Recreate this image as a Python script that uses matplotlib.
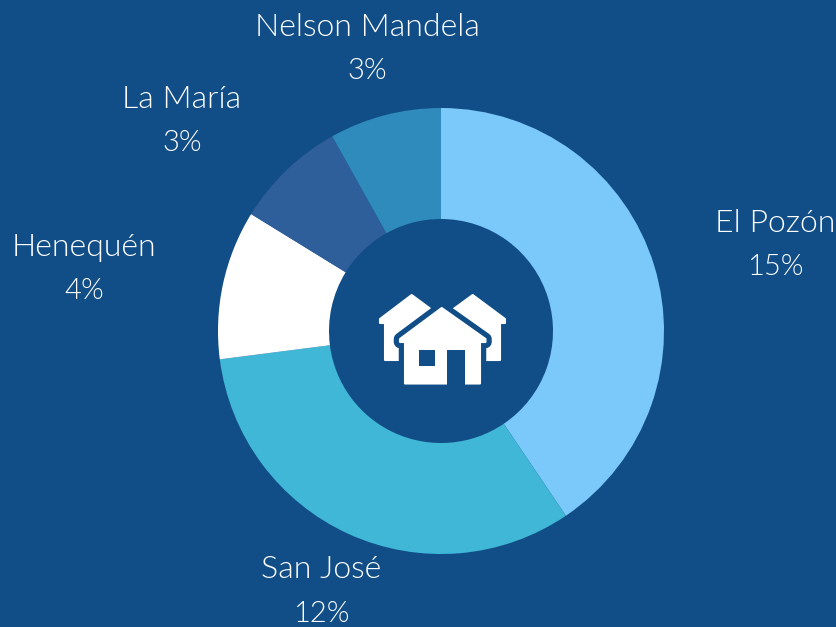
import matplotlib
matplotlib.use('Agg')
import matplotlib.pyplot as plt

labels = ['El Pozón', 'San José', 'Henequén', 'La María', 'Nelson Mandela']
values = [15, 12, 4, 3, 3]
percents = ['15%', '12%', '4%', '3%', '3%']
colors = ['#7bc8fb', '#40b7d7', '#ffffff', '#2f5f9b', '#2e8bbb']

# where the labels sit, in pixels from the top left
label_pos = [(775, 223), (321, 570), (84, 247), (182, 99), (367, 27)]
line_gap = 44

bg = '#114e87'
H = 627
plt.rcParams['font.family'] = ['Lato', 'DejaVu Sans']

fig = plt.figure(figsize=(8.36, 6.27), dpi=100, facecolor=bg)
ax = fig.add_axes([0, 0, 1, 1])

ax.pie(values, colors=colors, startangle=90, counterclock=False, center=(441, H - 331), radius=223,
       frame=True, wedgeprops=dict(width=111, linewidth=0))
ax.set_xlim(0, 836)
ax.set_ylim(0, H)
ax.axis('off')

for lab, pct, (x, y) in zip(labels, percents, label_pos):
    ax.text(x, H - y, lab, color='white', fontsize=23, fontweight=300, ha='center', va='center')
    ax.text(x, H - y - line_gap, pct, color='white', fontsize=21, fontweight=300, ha='center', va='center')


def shape(pts, color, edge=None, lw=0, z=3):
    xs = [p[0] for p in pts]
    ys = [H - p[1] for p in pts]
    ax.fill(xs, ys, facecolor=color, edgecolor=edge if edge else color, linewidth=lw, joinstyle='round', zorder=z)


# house icon in the middle of the ring
left_house = [(380, 319), (411.7, 295), (440, 316), (440, 360), (385, 360), (385, 323), (380, 323)]
right_house = [(505, 319), (472.7, 295), (444, 316), (444, 360), (500, 360), (500, 323), (505, 323)]
mid_house = [(441.7, 308), (485.5, 339), (485.5, 342), (480, 342), (480, 383.5), (405, 383.5),
             (405, 342), (400, 342), (400, 339)]
window = [(419.3, 350.3), (434.7, 350.3), (434.7, 365.7), (419.3, 365.7)]
door = [(447.3, 350.3), (465.3, 350.3), (465.3, 385), (447.3, 385)]

shape(left_house, 'white', lw=1.5, z=3)
shape(right_house, 'white', lw=1.5, z=3)
shape(mid_house, bg, edge=bg, lw=9, z=4)
shape(mid_house, 'white', lw=1.5, z=5)
shape(window, bg, z=6)
shape(door, bg, z=6)

fig.savefig('out.png', dpi=100, facecolor=bg)
